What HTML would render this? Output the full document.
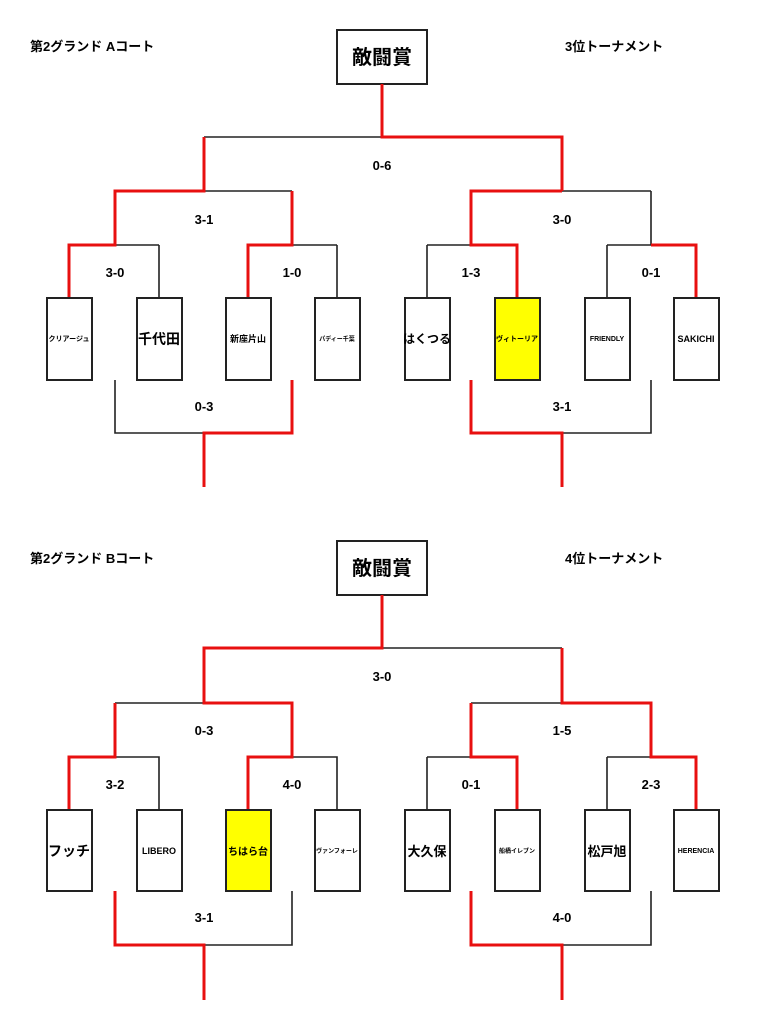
<!DOCTYPE html>
<html><head><meta charset="utf-8"><style>
html,body{margin:0;padding:0;background:#fff;}
svg{display:block;}
text{font-family:"Liberation Sans","Noto Sans CJK JP",sans-serif;font-weight:bold;fill:#000;}
</style></head><body>
<svg width="778" height="1016" viewBox="0 0 778 1016" xmlns="http://www.w3.org/2000/svg">
<g id="top">
<text x="30" y="51" font-size="13">第2グランド Aコート</text>
<text x="565" y="51" font-size="13">3位トーナメント</text>
<rect x="337" y="30" width="90" height="54" fill="#fff" stroke="#222" stroke-width="2"/>
<text x="382" y="64" font-size="20" text-anchor="middle">敵闘賞</text>
<g stroke-width="1.6" stroke="#222" fill="none">
<path d="M204 137H382M204 191H292M115 245H159M159 245V298M292 245H337M337 245V298M427 245H471M427 245V298M607 245H651M607 245V298M562 191H651M651 191V245"/>
<path d="M115 380V433H204M562 433H651V380"/>
</g>
<g stroke-width="3" stroke="#e81010" fill="none">
<path d="M382 84V137H562V191M204 137V191H115V245H69V298M292 191V245H248V298M562 191H471V245H517V298M651 245H696V298"/>
<path d="M292 380V433H204V487M471 380V433H562V487"/>
</g>
<text x="382" y="170" font-size="13" text-anchor="middle">0-6</text>
<text x="204" y="224" font-size="13" text-anchor="middle">3-1</text>
<text x="562" y="224" font-size="13" text-anchor="middle">3-0</text>
<text x="115" y="277" font-size="13" text-anchor="middle">3-0</text>
<text x="292" y="277" font-size="13" text-anchor="middle">1-0</text>
<text x="471" y="277" font-size="13" text-anchor="middle">1-3</text>
<text x="651" y="277" font-size="13" text-anchor="middle">0-1</text>
<text x="204" y="411" font-size="13" text-anchor="middle">0-3</text>
<text x="562" y="411" font-size="13" text-anchor="middle">3-1</text>
<g stroke="#222" stroke-width="2">
<rect x="47" y="298" width="45" height="82" fill="#fff"/>
<rect x="137" y="298" width="45" height="82" fill="#fff"/>
<rect x="226" y="298" width="45" height="82" fill="#fff"/>
<rect x="315" y="298" width="45" height="82" fill="#fff"/>
<rect x="405" y="298" width="45" height="82" fill="#fff"/>
<rect x="495" y="298" width="45" height="82" fill="#ffff00"/>
<rect x="585" y="298" width="45" height="82" fill="#fff"/>
<rect x="674" y="298" width="45" height="82" fill="#fff"/>
</g>
<text x="69" y="341" font-size="7" text-anchor="middle">クリアージュ</text>
<text x="159" y="344" font-size="14" text-anchor="middle">千代田</text>
<text x="248" y="342" font-size="9" text-anchor="middle">新座片山</text>
<text x="337" y="341" font-size="6" text-anchor="middle">パディー千葉</text>
<text x="427" y="343" font-size="12" text-anchor="middle">はくつる</text>
<text x="517" y="341" font-size="7" text-anchor="middle">ヴィトーリア</text>
<text x="607" y="341" font-size="7" text-anchor="middle">FRIENDLY</text>
<text x="696" y="342" font-size="9" text-anchor="middle">SAKICHI</text>
</g>
<g id="bottom">
<text x="30" y="563" font-size="13">第2グランド Bコート</text>
<text x="565" y="563" font-size="13">4位トーナメント</text>
<rect x="337" y="541" width="90" height="54" fill="#fff" stroke="#222" stroke-width="2"/>
<text x="382" y="575" font-size="20" text-anchor="middle">敵闘賞</text>
<g stroke-width="1.6" stroke="#222" fill="none">
<path d="M382 648H562M115 703H204M471 703H562M115 757H159V810M292 757H337V810M427 757H471M427 757V810M607 757H651M607 757V810"/>
<path d="M292 891V945H204M562 945H651V891"/>
</g>
<g stroke-width="3" stroke="#e81010" fill="none">
<path d="M382 595V648H204V703H292V757H248V810M204 703M115 703V757H69V810M562 648V703H651V757H696V810M471 703V757H517V810"/>
<path d="M115 891V945H204V1000M471 891V945H562V1000"/>
</g>
<text x="382" y="681" font-size="13" text-anchor="middle">3-0</text>
<text x="204" y="735" font-size="13" text-anchor="middle">0-3</text>
<text x="562" y="735" font-size="13" text-anchor="middle">1-5</text>
<text x="115" y="789" font-size="13" text-anchor="middle">3-2</text>
<text x="292" y="789" font-size="13" text-anchor="middle">4-0</text>
<text x="471" y="789" font-size="13" text-anchor="middle">0-1</text>
<text x="651" y="789" font-size="13" text-anchor="middle">2-3</text>
<text x="204" y="922" font-size="13" text-anchor="middle">3-1</text>
<text x="562" y="922" font-size="13" text-anchor="middle">4-0</text>
<g stroke="#222" stroke-width="2">
<rect x="47" y="810" width="45" height="81" fill="#fff"/>
<rect x="137" y="810" width="45" height="81" fill="#fff"/>
<rect x="226" y="810" width="45" height="81" fill="#ffff00"/>
<rect x="315" y="810" width="45" height="81" fill="#fff"/>
<rect x="405" y="810" width="45" height="81" fill="#fff"/>
<rect x="495" y="810" width="45" height="81" fill="#fff"/>
<rect x="585" y="810" width="45" height="81" fill="#fff"/>
<rect x="674" y="810" width="45" height="81" fill="#fff"/>
</g>
<text x="69" y="856" font-size="14" text-anchor="middle">フッチ</text>
<text x="159" y="854" font-size="9" text-anchor="middle">LIBERO</text>
<text x="248" y="855" font-size="10" text-anchor="middle">ちはら台</text>
<text x="337" y="853" font-size="6" text-anchor="middle">ヴァンフォーレ</text>
<text x="427" y="856" font-size="13" text-anchor="middle">大久保</text>
<text x="517" y="853" font-size="6" text-anchor="middle">船橋イレブン</text>
<text x="607" y="856" font-size="13" text-anchor="middle">松戸旭</text>
<text x="696" y="853" font-size="7" text-anchor="middle">HERENCIA</text>
</g>
</svg>
</body></html>
